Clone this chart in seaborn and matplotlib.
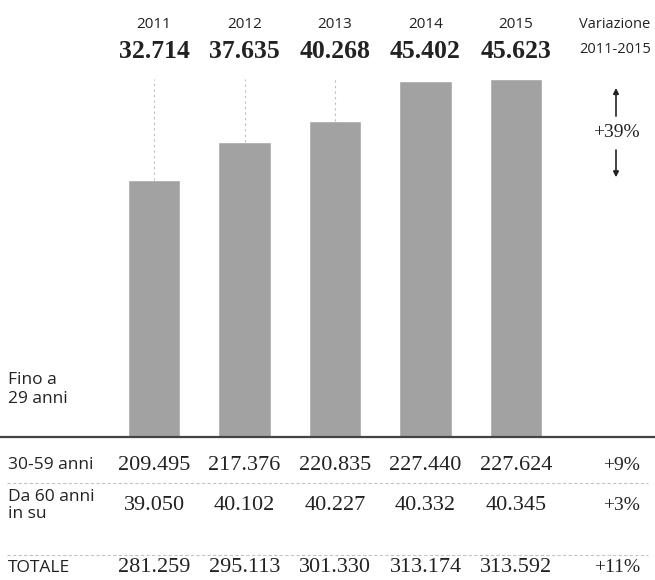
# Grafico a barre "Fino a 29 anni" con tabella sotto (ricostruzione)
import matplotlib
matplotlib.use("Agg")
import matplotlib.pyplot as plt
import matplotlib.transforms as mtransforms
import pandas as pd
import seaborn as sns

# Dati
anni = ["2011", "2012", "2013", "2014", "2015"]
fino_29 = [32714, 37635, 40268, 45402, 45623]
anni_30_59 = [209495, 217376, 220835, 227440, 227624]
da_60 = [39050, 40102, 40227, 40332, 40345]
totale = [281259, 295113, 301330, 313174, 313592]
variazione = ["+39%", "+9%", "+3%", "+11%"]
etichette_righe = ["30-59 anni", "Da 60 anni\nin su", "TOTALE"]

sans = ["Liberation Sans Narrow", "Open Sans", "DejaVu Sans"]
serif = ["Liberation Serif", "DejaVu Serif"]


def fmt(v):
    return f"{v:,}".replace(",", ".")


sns.set_style("white")
plt.rcParams["font.family"] = sans

fig = plt.figure(figsize=(6.55, 5.8), dpi=100)
ax = fig.add_axes([0, 1 - 437 / 580, 1, 437 / 580])

df = pd.DataFrame({"anno": anni, "valore": fino_29})
sns.barplot(data=df, x="anno", y="valore", color="#a2a2a2", width=0.575,
            saturation=1, ax=ax)

ax.set_xlim(-1.702, 5.536)
ax.set_ylim(0, 55700)
ax.axis("off")

# Linee tratteggiate sopra le barre più basse
top = max(fino_29)
for i, v in enumerate(fino_29[:3]):
    ax.vlines(i, v, top, colors="#bdbdbd", linestyles=(0, (2, 3)), linewidth=0.8)

# Linea di base
ax.axhline(0, color="#444444", linewidth=1.6, xmin=0, xmax=1, clip_on=False)

tr = mtransforms.blended_transform_factory(ax.transData, fig.transFigure)

# Intestazioni
for i, (a, v) in enumerate(zip(anni, fino_29)):
    ax.text(i, 0.957, a, transform=tr, ha="center", va="center", fontsize=11,
            color="#222222")
    ax.text(i, 0.912, fmt(v), transform=tr, ha="center", va="center",
            fontsize=18.5, fontweight="bold", family=serif, color="#222222")

ax.text(5.094, 0.957, "Variazione", transform=tr, ha="center", va="center",
        fontsize=10.5, color="#222222")
ax.text(5.094, 0.914, "2011-2015", transform=tr, ha="center", va="center",
        fontsize=10.5, color="#222222")

# Freccia +39%
ax.annotate("", xy=(5.105, 0.805), xytext=(5.105, 0.728),
            xycoords=ax.get_xaxis_transform(),
            arrowprops=dict(arrowstyle="-|>", color="#222222", lw=1.2,
                            mutation_scale=8))
ax.annotate("", xy=(5.105, 0.588), xytext=(5.105, 0.663),
            xycoords=ax.get_xaxis_transform(),
            arrowprops=dict(arrowstyle="-|>", color="#222222", lw=1.2,
                            mutation_scale=8))
ax.text(5.105, 0.696, variazione[0], transform=ax.get_xaxis_transform(),
        ha="center", va="center", fontsize=14, family=serif, color="#222222")

# Etichetta della serie
fig.text(0.012, 0.328, "Fino a\n29 anni", ha="left", va="center", fontsize=12.5,
         color="#222222", linespacing=1.25)

# Tabella sotto il grafico
righe = [anni_30_59, da_60, totale]
y_righe = [0.198, 0.129, 0.021]
for etichetta, valori, perc, y in zip(etichette_righe, righe, variazione[1:], y_righe):
    fig.text(0.012, y, etichetta, ha="left", va="center", fontsize=12.5,
             color="#222222", linespacing=1.1)
    for i, v in enumerate(valori):
        ax.text(i, y, fmt(v), transform=tr, ha="center", va="center",
                fontsize=16, family=serif, color="#222222")
    ax.text(5.37, y, perc, transform=tr, ha="right", va="center",
            fontsize=14, family=serif, color="#222222")

# Separatori tratteggiati
for y in [0.167, 0.043]:
    fig.add_artist(plt.Line2D([0.01, 0.99], [y, y], transform=fig.transFigure,
                              color="#c4c4c4", linewidth=0.8,
                              linestyle=(0, (3, 2))))

fig.savefig("out.png", dpi=100, facecolor="white")
